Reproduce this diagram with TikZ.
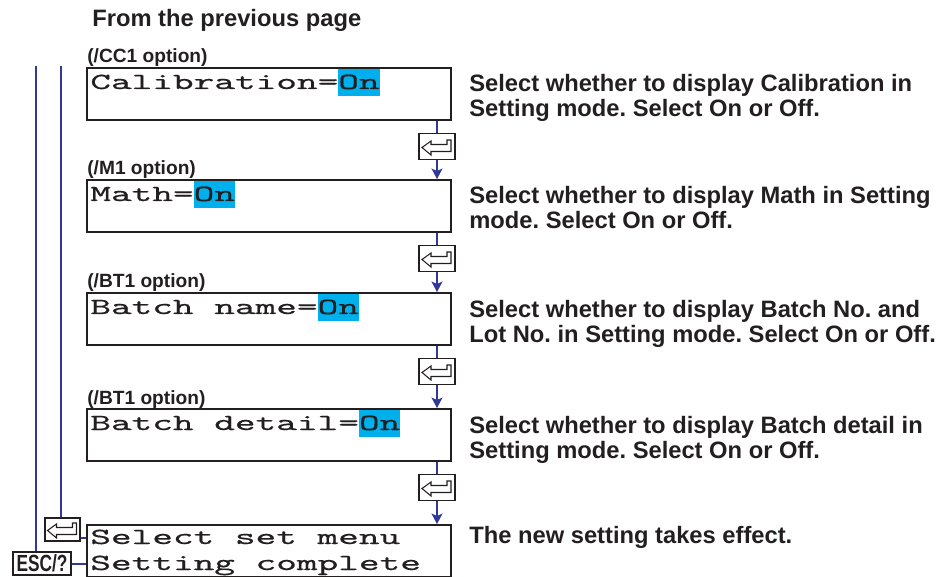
\documentclass[tikz,border=0pt]{standalone}
\usepackage{fontspec}
\setmainfont{Liberation Sans}
\newfontfamily\lcdfont[FakeStretch=1.71,FakeBold=0.6]{lmmono10-regular.otf}
\newfontfamily\escfont[FakeStretch=0.74]{Liberation Sans}
\usetikzlibrary{arrows.meta}
\definecolor{flowblue}{RGB}{48,56,152}
\definecolor{oncyan}{RGB}{0,176,236}
\definecolor{inkgray}{RGB}{35,31,32}
\frenchspacing
\newcommand\hlon[1]{{\setlength{\fboxsep}{0pt}\colorbox{oncyan}{\rule[-4pt]{0pt}{15.4pt}#1}}}
\tikzset{
	flow/.style={draw=flowblue,line width=0.7pt},
	flowarr/.style={flow,-{Stealth[length=2.1mm,width=2.2mm,inset=0.5mm]}},
	keysym/.style={draw=inkgray,line width=0.6pt,line join=miter}
}
% enter-key glyph, drawn over a key node (units are px)
\newcommand\entersym[1]{\draw[keysym] ([shift={(-15,1)}]#1.center) -- ++(9,-6.5) -- ++(0,3.5)
	-- ++(16,0) -- ++(0,-4.5) -- ++(4,0) -- ++(0,11.5) -- ++(-20,0) -- ++(0,3.5) -- cycle;}

\begin{document}
\begin{tikzpicture}[x=0.02cm,y=-0.02cm,
		lcd/.style={draw=inkgray,line width=1.1pt,minimum width=7.28cm,minimum height=1.04cm,inner sep=0pt},
		lcdtxt/.style={anchor=base west,inner sep=0pt,text=inkgray,font=\lcdfont\fontsize{13.1pt}{14pt}\selectfont},
		desc/.style={anchor=base west,inner sep=0pt,text=inkgray,font=\bfseries\fontsize{13.5pt}{16pt}\selectfont},
		opt/.style={anchor=base west,inner sep=0pt,text=inkgray,font=\bfseries\fontsize{10.9pt}{13pt}\selectfont},
		key/.style={draw=inkgray,fill=white,line width=0.8pt,minimum width=0.72cm,minimum height=0.52cm,inner sep=0pt},
		esc/.style={draw=inkgray,fill=white,line width=0.8pt,minimum width=1.16cm,minimum height=0.46cm,inner sep=0pt,
			text=inkgray,font=\escfont\bfseries\fontsize{13.3pt}{14pt}\selectfont}]
	\useasboundingbox (0,0) rectangle (949,577);
	\node[desc] (head) at (92,27) {From the previous page};
	% screens
	\foreach \i/\t in {1/68,2/180,3/293,4/409,5/525}
	\node[lcd] (box\i) at (269,\t+26) {};
	\foreach \i/\t/\k in {1/68/CC1,2/180/M1,3/293/BT1,4/409/BT1}
	\node[opt] (opt\i) at (87,\t-5) {(/\k\ option)};
	\foreach \i/\t/\s in {1/68/Calibration=,2/180/Math=,3/293/Batch name=,4/409/Batch detail=}
	\node[lcdtxt] (txt\i) at (90,\t+21) {\s\hlon{On}};
	\node[lcdtxt] (txt5a) at (90,544) {Select set menu};
	\node[lcdtxt] (txt5b) at (90,570) {Setting complete};
	% explanations
	\foreach \i/\t/\la/\lb in {1/68/Select whether to display Calibration in/Setting mode. Select On or Off.,
		2/180/Select whether to display Math in Setting/mode. Select On or Off.,
		3/293/Select whether to display Batch No. and/Lot No. in Setting mode. Select On or Off.,
		4/409/Select whether to display Batch detail in/Setting mode. Select On or Off.}
	{
		\node[desc] (d\i-1) at (469,\t+24) {\la};
		\node[desc] (d\i-2) at (469,\t+49) {\lb};
	}
	\node[desc] (d5) at (469,543) {The new setting takes effect.};
	% enter keys and flow
	\foreach \i/\b in {1/120,2/232,3/345,4/461} {
		\node[key] (ent\i) at (437,\b+26.5) {};
		\entersym{ent\i}
	}
	\foreach \i [evaluate=\i as \j using int(\i+1)] in {1,...,4} {
		\draw[flow] (ent\i.north |- box\i.south) -- (ent\i.north);
		\draw[flowarr] (ent\i.south) -- (ent\i.south |- box\j.north);
	}
	% return paths on the left
	\node[key,minimum width=0.7cm,minimum height=0.46cm] (entB) at (62.5,529.5) {};
	\entersym{entB}
	\node[esc] (esc) at (42,563.5) {ESC/?};
	\coordinate (topA) at (36,66);
	\coordinate (topB) at (61,66);
	\coordinate (l1) at ([shift={(0,-13)}]box5.west);
	\coordinate (l2) at ([shift={(0,13)}]box5.west);
	\draw[flow] (topA) -- (topA |- esc.north);
	\draw[flow] (topB) -- (topB |- entB.north);
	\draw[flow] (entB.east |- l1) -- (l1);
	\draw[flow] (esc.east |- l2) -- (l2);
\end{tikzpicture}
\end{document}
